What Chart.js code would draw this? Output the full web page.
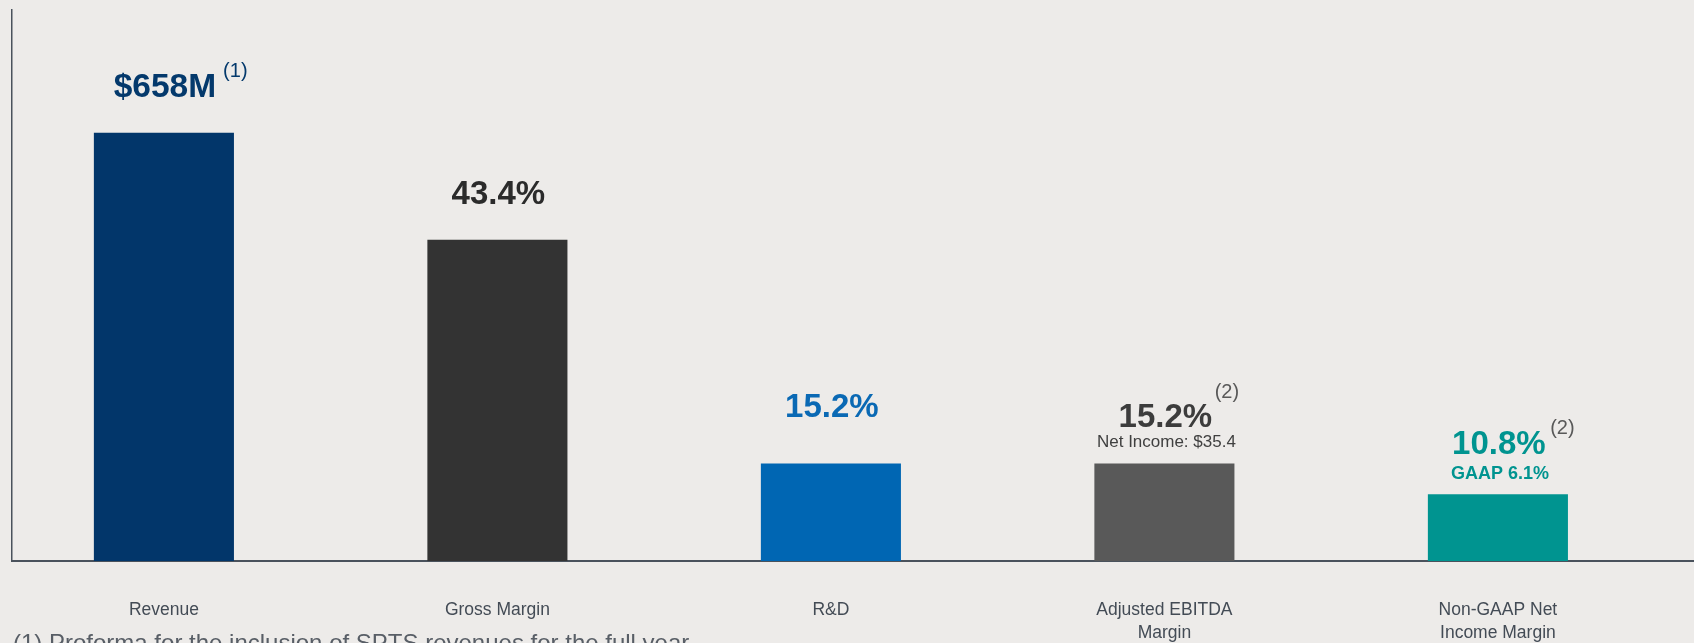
<!DOCTYPE html>
<html>
<head>
<meta charset="utf-8">
<script src="https://cdn.jsdelivr.net/npm/chart.js@4/dist/chart.umd.min.js"></script>
<style>
  html, body { margin: 0; padding: 0; background: #EDEBE9; overflow: hidden; }
  #wrap { position: relative; width: 1694px; height: 643px; overflow: hidden; background: #EDEBE9; }
  canvas { position: absolute; left: 0; top: 0; }
  #foot { position: absolute; left: 13px; top: 631px; font-family: "Liberation Sans", Arial, sans-serif;
          font-size: 24px; line-height: 24px; color: #585e66; white-space: nowrap; }
</style>
</head>
<body>
<div id="wrap">
  <canvas id="c" width="1694" height="643"></canvas>
  <div id="foot">(1) Proforma for the inclusion of SPTS revenues for the full year</div>
</div>
<script>
// ---- data ----
const categories = ["Revenue", "Gross Margin", "R&D", ["Adjusted EBITDA", "Margin"], ["Non-GAAP Net", "Income Margin"]];
// relative bar heights on a hidden 0-100 scale
const barHeights = [77.7, 58.3, 17.7, 17.7, 12.1];
const valueLabels = ["$658M", "43.4%", "15.2%", "15.2%", "10.8%"];
const footnoteMarks = ["(1)", "", "", "(2)", "(2)"];
const subLabels = ["", "", "", "Net Income: $35.4", "GAAP 6.1%"];

// ---- styles ----
const barColors = ["#02366A", "#333333", "#0066B3", "#595959", "#009490"];
const valueColors = ["#04396C", "#2B2B2B", "#0A69B4", "#3C3C3C", "#009490"];
const markColors = ["#04396C", "#595959", "#595959", "#595959", "#595959"];
const subColors = ["#404040", "#404040", "#404040", "#404040", "#009490"];
const subBold = [false, false, false, false, true];
const subSize = [17, 17, 17, 17, 18];
const mainSize = [33.5, 33, 33, 33, 33];
const mainGap = [36, 36, 46, 36.5, 40];   // baseline above bar top
const subGap = [0, 0, 0, 16, 15.5];
const markDx = [7, 0, 0, 2.5, 4.5];
const markDy = [-20, 0, 0, -29, -20];
const FONT = '"Liberation Sans", Arial, sans-serif';

const valueLabelPlugin = {
  id: 'valueLabels',
  afterDatasetsDraw(chart) {
    const ctx = chart.ctx;
    const meta = chart.getDatasetMeta(0);
    meta.data.forEach((el, i) => {
      const x = el.x;
      const top = el.y;
      ctx.save();
      ctx.textBaseline = 'alphabetic';
      ctx.textAlign = 'center';
      ctx.font = 'bold ' + mainSize[i] + 'px ' + FONT;
      ctx.fillStyle = valueColors[i];
      const by = top - mainGap[i];
      ctx.fillText(valueLabels[i], x + 1, by);
      const w = ctx.measureText(valueLabels[i]).width;
      if (footnoteMarks[i]) {
        ctx.font = '20px ' + FONT;
        ctx.textAlign = 'left';
        ctx.fillStyle = markColors[i];
        ctx.fillText(footnoteMarks[i], x + 1 + w / 2 + markDx[i], by + markDy[i]);
      }
      if (subLabels[i]) {
        ctx.font = (subBold[i] ? 'bold ' : '') + subSize[i] + 'px ' + FONT;
        ctx.textAlign = 'center';
        ctx.fillStyle = subColors[i];
        ctx.fillText(subLabels[i], x + 2, top - subGap[i]);
      }
      ctx.restore();
    });
  }
};

new Chart(document.getElementById('c'), {
  type: 'bar',
  data: {
    datasets: [{
      data: barHeights.map((v, i) => ({ x: i, y: v })),
      backgroundColor: barColors,
      borderWidth: 0,
      categoryPercentage: 1.0,
      barPercentage: 0.42
    }]
  },
  options: {
    responsive: false,
    animation: false,
    devicePixelRatio: 1,
    layout: { padding: { left: 12, top: 10, right: 0, bottom: 0 } },
    plugins: { legend: { display: false }, tooltip: { enabled: false } },
    scales: {
      x: {
        type: 'linear',
        offset: false,
        min: -0.4555,
        max: 4.588,
        grid: { display: false, drawTicks: false, offset: false },
        border: { display: true, color: '#4A525C', width: 2 },
        afterBuildTicks: (scale) => { scale.ticks = categories.map((c, i) => ({ value: i })); },
        afterFit: (scale) => { scale.height = 82; },
        ticks: {
          autoSkip: false,
          maxRotation: 0,
          padding: 38,
          color: '#434B55',
          font: { family: FONT, size: 17.5, lineHeight: 1.3 },
          callback: (v) => categories[v]
        }
      },
      y: {
        min: 0,
        max: 100,
        grid: { display: false, drawTicks: false },
        border: { display: true, color: '#4A525C', width: 1.5 },
        ticks: { display: false }
      }
    }
  },
  plugins: [valueLabelPlugin]
});
</script>
</body>
</html>
